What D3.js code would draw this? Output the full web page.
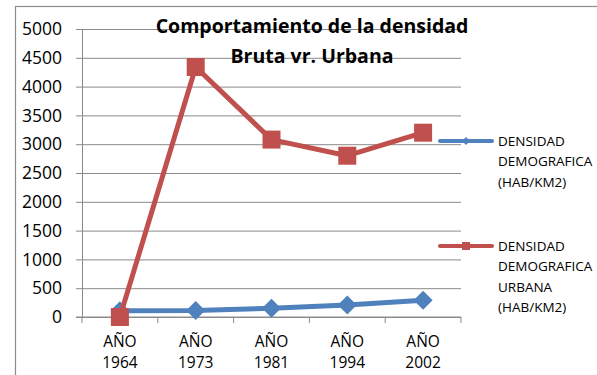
<!DOCTYPE html>
<html>
<head>
<meta charset="utf-8">
<script src="https://cdn.jsdelivr.net/npm/d3@7"></script>
<style>
  html, body { margin: 0; padding: 0; background: #fff; }
  svg { display: block; font-family: "Open Sans", Lato, sans-serif; }
</style>
</head>
<body>
<svg id="chart" width="597" height="375"></svg>
<script>
// Densidad demográfica por año censal
const categories = ["AÑO 1964", "AÑO 1973", "AÑO 1981", "AÑO 1994", "AÑO 2002"];
const densidadBruta = [110, 115, 150, 210, 290];
const densidadUrbana = [0, 4340, 3080, 2800, 3200];
const yTicks = [0, 500, 1000, 1500, 2000, 2500, 3000, 3500, 4000, 4500, 5000];
const seriesNames = [
  ["DENSIDAD", "DEMOGRAFICA", "(HAB/KM2)"],
  ["DENSIDAD", "DEMOGRAFICA", "URBANA", "(HAB/KM2)"]
];
const titleLines = ["Comportamiento de la densidad", "Bruta vr. Urbana"];

const BLUE = "#4f81bd", RED = "#c0504d", GRID = "#8a8a8a";

const svg = d3.select("#chart");

// chart frame
svg.append("rect")
  .attr("x", 15.5).attr("y", 6.5)
  .attr("width", 620).attr("height", 420)
  .attr("fill", "none").attr("stroke", "#8c8c8c").attr("stroke-width", 1.2);

const plotLeft = 82, plotRight = 461, plotTop = 29, plotBottom = 317;
const x = d3.scaleBand().domain(categories).range([plotLeft, plotRight]);
const y = d3.scaleLinear().domain([0, 5000]).range([plotBottom, plotTop]);

// gridlines
svg.append("g")
  .attr("transform", `translate(${plotLeft},0)`)
  .call(d3.axisLeft(y).tickValues(yTicks).tickSize(-(plotRight - plotLeft)).tickFormat(""))
  .call(g => g.select(".domain").remove())
  .call(g => g.selectAll("line").attr("stroke", GRID).attr("stroke-width", 1));

// y axis with labels
svg.append("g")
  .attr("transform", `translate(${plotLeft},0)`)
  .call(d3.axisLeft(y).tickValues(yTicks).tickSize(6).tickPadding(14).tickFormat(d3.format("d")))
  .call(g => g.select(".domain").attr("stroke", GRID))
  .call(g => g.selectAll("line").attr("stroke", GRID))
  .call(g => g.selectAll("text")
    .attr("font-family", "'Open Sans', sans-serif")
    .attr("font-size", 17.5).attr("fill", "#000"));

// x axis
const xAxis = svg.append("g").attr("transform", `translate(0,${plotBottom})`);
xAxis.append("line")
  .attr("x1", plotLeft - 6).attr("x2", plotRight)
  .attr("stroke", GRID);
const bounds = categories.map(c => x(c)).concat([x.range()[1]]);
xAxis.selectAll("line.tick").data(bounds).join("line")
  .attr("class", "tick")
  .attr("x1", d => d).attr("x2", d => d)
  .attr("y1", 0).attr("y2", 6)
  .attr("stroke", GRID);
const xl = xAxis.selectAll("text.lbl").data(categories).join("text")
  .attr("class", "lbl")
  .attr("x", d => x(d) + x.bandwidth() / 2)
  .attr("text-anchor", "middle")
  .attr("font-size", 15.5).attr("fill", "#000");
xl.append("tspan").attr("x", d => x(d) + x.bandwidth() / 2).attr("y", 30).text(d => d.split(" ")[0]);
xl.append("tspan").attr("x", d => x(d) + x.bandwidth() / 2).attr("y", 51).text(d => d.split(" ")[1]);

// series
const cx = c => x(c) + x.bandwidth() / 2;
const line = d3.line().x(d => cx(d[0])).y(d => y(d[1]));

function drawSeries(values, color, shape) {
  const pts = categories.map((c, i) => [c, values[i]]);
  svg.append("path").datum(pts)
    .attr("d", line)
    .attr("fill", "none").attr("stroke", color)
    .attr("stroke-width", 5).attr("stroke-linejoin", "round");
  svg.append("g").selectAll("path").data(pts).join("path")
    .attr("transform", d => `translate(${cx(d[0])},${y(d[1])})`)
    .attr("d", shape)
    .attr("fill", color);
}
const diamond = "M0,-9.5L9.5,0L0,9.5L-9.5,0Z";
const square = "M-9,-9H9V9H-9Z";
drawSeries(densidadBruta, BLUE, diamond);
drawSeries(densidadUrbana, RED, square);

// title
svg.append("text")
  .attr("x", 312).attr("text-anchor", "middle")
  .attr("font-weight", "bold").attr("font-size", 19.5).attr("fill", "#000")
  .selectAll("tspan").data(titleLines).join("tspan")
  .attr("x", 312).attr("y", (d, i) => 33 + i * 30)
  .text(d => d);

// legend
const legendY = [141, 246];
const legendColors = [BLUE, RED];
const legendShapes = ["M0,-4L4,0L0,4L-4,0Z", "M-4,-4H4V4H-4Z"];
const lg = svg.append("g").selectAll("g").data(seriesNames).join("g")
  .attr("transform", (d, i) => `translate(0,${legendY[i]})`);
lg.append("line")
  .attr("x1", 440).attr("x2", 492)
  .attr("stroke", (d, i) => legendColors[i])
  .attr("stroke-width", 4).attr("stroke-linecap", "round");
lg.append("path")
  .attr("transform", "translate(466,0)")
  .attr("d", (d, i) => legendShapes[i])
  .attr("fill", (d, i) => legendColors[i]);
lg.append("text")
  .attr("font-size", 13.5).attr("fill", "#000")
  .selectAll("tspan").data(d => d).join("tspan")
  .attr("x", 498).attr("y", (d, i) => i * 20.5).attr("dy", "0.35em")
  .text(d => d);
</script>
</body>
</html>
